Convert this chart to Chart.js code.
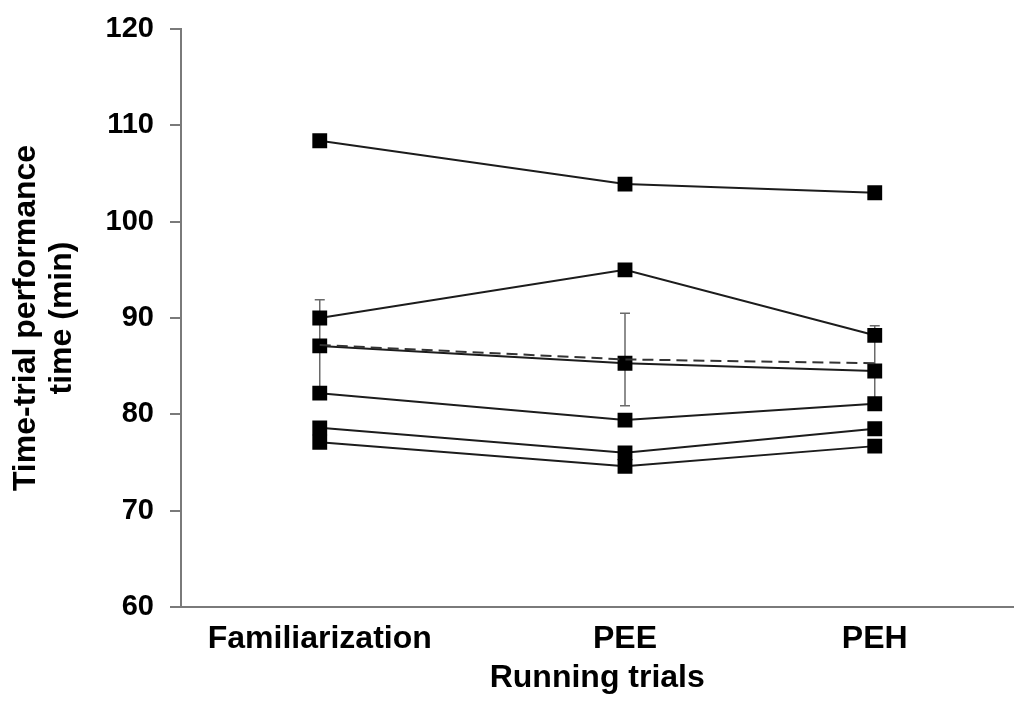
<!DOCTYPE html>
<html>
<head>
<meta charset="utf-8">
<script src="https://cdn.jsdelivr.net/npm/chart.js@4.4.1/dist/chart.umd.min.js"></script>
<style>
  html, body { margin: 0; padding: 0; background: #fff; }
  #chart { display: block; }
</style>
</head>
<body>
<canvas id="chart" width="1024" height="704"></canvas>
<script>
const trials = ['Familiarization', 'PEE', 'PEH'];
// horizontal position of each trial on the x axis (0..3)
const trialPos = [0.5, 1.6, 2.5];

// individual runners (min)
const runner1 = [108.4, 103.9, 103.0];
const runner2 = [90.0, 95.0, 88.2];
const runner3 = [87.1, 85.3, 84.5];
const runner4 = [82.2, 79.4, 81.1];
const runner5 = [78.6, 76.0, 78.5];
const runner6 = [77.1, 74.6, 76.7];

// group mean and error (SEM)
const meanTime = [87.2, 85.7, 85.3];
const meanErr = [4.7, 4.8, 3.9];

const yTicks = [60, 70, 80, 90, 100, 110, 120];

const toPoints = vals => trialPos.map((x, i) => ({ x, y: vals[i] }));

const runnerSet = vals => ({
  data: toPoints(vals),
  borderColor: '#1c1c1c',
  borderWidth: 2,
  pointStyle: 'rect',
  pointRadius: 10.5,
  pointBorderWidth: 0,
  pointBackgroundColor: '#000',
  pointBorderColor: '#000',
  tension: 0,
});

// error bars for the mean, drawn behind the markers
const errorBars = {
  id: 'errorBars',
  beforeDatasetsDraw(chart) {
    const { ctx, scales: { x, y } } = chart;
    ctx.save();
    ctx.strokeStyle = '#6a6a6a';
    ctx.lineWidth = 1.5;
    meanTime.forEach((m, i) => {
      const px = x.getPixelForValue(trialPos[i]);
      const top = y.getPixelForValue(m + meanErr[i]);
      const bot = y.getPixelForValue(m - meanErr[i]);
      ctx.beginPath();
      ctx.moveTo(px, top);
      ctx.lineTo(px, bot);
      ctx.moveTo(px - 5, top);
      ctx.lineTo(px + 5, top);
      ctx.moveTo(px - 5, bot);
      ctx.lineTo(px + 5, bot);
      ctx.stroke();
    });
    ctx.restore();
  },
};

const family = '"Liberation Sans", Arial, sans-serif';
const tickFont = { family, size: 29, weight: 'bold' };
const labelFont = { family, size: 32, weight: 'bold' };

new Chart(document.getElementById('chart'), {
  type: 'line',
  data: {
    datasets: [
      {
        data: toPoints(meanTime),
        borderColor: '#333',
        borderWidth: 2,
        borderDash: [11, 6],
        pointRadius: 0,
        tension: 0,
      },
      runnerSet(runner1),
      runnerSet(runner2),
      runnerSet(runner3),
      runnerSet(runner4),
      runnerSet(runner5),
      runnerSet(runner6),
    ],
  },
  options: {
    responsive: false,
    devicePixelRatio: 1,
    animation: false,
    layout: { padding: { top: 29, right: 4, left: 0, bottom: 0 } },
    plugins: {
      legend: { display: false },
      tooltip: { enabled: false },
    },
    scales: {
      x: {
        type: 'linear',
        min: 0,
        max: 3,
        afterBuildTicks: scale => {
          scale.ticks = trialPos.map(v => ({ value: v }));
        },
        afterFit: scale => { scale.height = 97; },
        grid: { display: false, drawTicks: false },
        border: { display: true, color: '#7a7a7a', width: 2 },
        ticks: {
          autoSkip: false,
          maxRotation: 0,
          padding: 13,
          color: '#000',
          font: labelFont,
          callback: v => trials[trialPos.indexOf(v)],
        },
        title: {
          display: true,
          text: 'Running trials',
          color: '#000',
          font: labelFont,
          padding: { top: 0, bottom: 7 },
        },
      },
      y: {
        min: 60,
        max: 120,
        afterBuildTicks: scale => {
          scale.ticks = yTicks.map(v => ({ value: v }));
        },
        afterFit: scale => {
          scale.width = 181;
          // keep the label padding from pushing the plot area down
          scale.paddingTop = 18;
          scale.paddingBottom = 18;
        },
        grid: {
          drawOnChartArea: false,
          drawTicks: true,
          tickLength: 11,
          color: '#7a7a7a',
          lineWidth: 2,
        },
        border: { display: true, color: '#7a7a7a', width: 2 },
        ticks: {
          padding: 16,
          color: '#000',
          font: tickFont,
        },
        title: {
          display: true,
          text: ['Time-trial performance', 'time (min)'],
          color: '#000',
          font: { ...labelFont, lineHeight: 1.125 },
          padding: { top: 8, bottom: 0 },
        },
      },
    },
  },
  plugins: [errorBars],
});
</script>
</body>
</html>
